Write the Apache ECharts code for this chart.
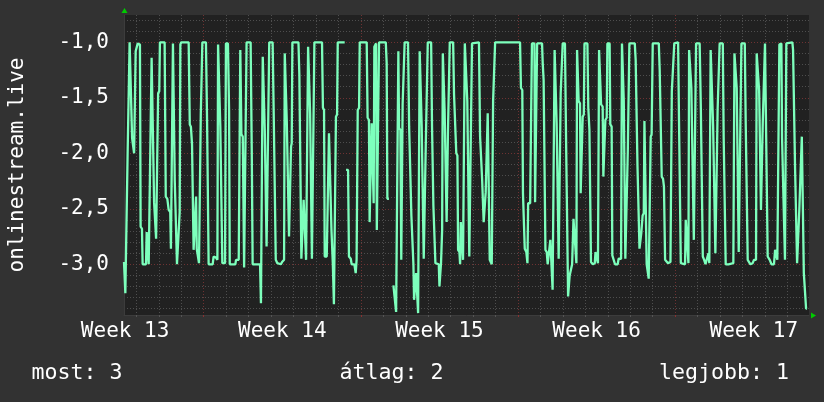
<!DOCTYPE html>
<html><head><meta charset="utf-8">
<script src="https://cdn.jsdelivr.net/npm/echarts@6/dist/echarts.min.js"></script>
<style>html,body{margin:0;padding:0;background:#323232;}#c{width:824px;height:402px;}</style>
</head><body><div id="c"></div>
<script>
// time in days from the left edge of the plot, value (negated rank)
const times = [
0.00,0.04,0.06,0.13,0.16,0.21,0.25,0.33,0.36,0.42,0.45,0.49,0.52,0.58,0.61,0.71,0.74,0.80,0.83,0.98,
1.01,1.07,1.10,1.17,1.23,1.31,1.34,1.40,1.43,1.49,1.52,1.57,1.60,1.81,1.86,1.93,1.99,2.06,2.09,2.15,
2.18,2.23,2.26,2.32,2.36,2.44,2.48,2.51,2.55,2.88,2.93,2.98,3.03,3.07,3.10,3.18,3.21,3.24,3.30,3.34,
3.39,3.42,3.46,3.49,3.65,3.70,3.74,3.77,3.95,3.99,4.10,4.16,4.19,4.26,4.29,4.35,4.38,4.50,4.54,4.63,
4.68,4.71,4.96,4.99,5.11,5.18,5.23,5.29,5.35,5.39,5.42,5.46,5.64,5.69,5.73,6.06,6.10,
6.15,6.18,6.24,6.27,6.33,6.35,6.43,6.47,6.62,6.67,6.73,6.76,6.83,6.89,6.98,7.04,7.13,7.16,7.22,7.25,
7.32,7.35,7.41,7.44,7.47,7.50,7.77,7.81,7.87,7.90,7.97,8.00,8.08,8.11,8.17,8.20,8.26,8.29,8.35,8.37,
8.45,8.48,8.82,8.86,8.91,8.94,9.03,9.09,9.13,9.21,9.24,9.30,9.35,9.41,9.44,9.49,9.52,9.83,9.86,9.89,
9.98,10.02,10.10,10.14,10.26,10.32,10.36,10.41,10.47,10.50,10.81,10.85,10.91,10.94,11.00,11.03,11.08,11.12,11.15,11.23,
11.26,11.31,11.36,11.66,11.70,11.73,11.80,11.90,12.00,12.07,12.12,12.18,
12.22,12.25,12.31,12.35,12.38,12.41,12.46,12.50,12.65,12.70,12.75,12.80,12.86,12.89,12.92,12.98,13.01,13.07,13.10,13.14,
13.17,13.23,13.26,13.32,13.35,13.41,13.44,13.50,13.53,13.68,13.72,13.78,13.84,13.87,14.02,14.05,14.09,14.12,14.17,14.20,
14.25,14.28,14.34,14.37,14.40,14.43,14.48,14.51,14.66,14.70,14.76,14.80,14.85,14.88,14.94,14.97,15.00,15.07,15.10,15.15,
15.18,15.26,15.29,15.35,15.38,15.44,15.50,15.81,15.86,15.92,15.95,15.99,16.02,16.08,16.11,16.17,16.20,16.26,16.29,16.38,
16.41,16.44,16.50,16.53,17.64,17.68,17.74,17.77,17.82,17.85,17.92,17.97,18.00,18.09,18.11,18.17,18.28,18.31,18.37,
18.40,18.62,18.65,18.69,18.74,18.77,18.83,18.87,18.95,18.99,19.05,19.09,19.15,19.18,19.24,19.27,19.33,19.36,19.42,19.45,
19.51,19.54,19.64,19.69,19.75,19.78,19.82,19.85,19.93,19.96,20.02,20.09,20.15,20.18,20.22,20.25,20.31,20.34,20.40,20.43,
20.48,20.51,20.64,20.68,20.73,20.77,20.80,20.88,20.97,21.00,21.08,21.11,21.16,21.22,21.25,21.32,21.35,21.41,21.44,21.50,
21.53,21.63,21.66,21.72,21.75,21.81,21.87,21.99,22.03,22.14,22.18,22.23,22.26,22.30,22.33,22.41,22.44,22.48,22.51,22.75,
22.79,22.84,22.87,22.93,22.96,23.01,23.04,23.10,23.15,23.18,23.25,23.28,23.34,23.37,23.43,23.46,23.50,23.55,23.82,23.86,
23.91,23.95,24.01,24.05,24.10,24.17,24.23,24.29,24.34,24.40,24.47,24.51,
24.68,24.72,24.77,24.80,24.99,25.02,25.09,25.14,25.17,25.24,25.27,25.35,25.38,25.43,25.48,25.64,25.69,25.75,25.78,25.84,
25.90,25.98,26.03,26.07,26.13,26.21,26.24,26.30,26.34,26.40,26.44,26.50,26.53,26.67,26.71,26.77,26.80,26.92,26.99,27.14,
27.19,27.26,27.29,27.35,27.38,27.45,27.50,27.65,27.69,27.75,27.78,27.84,27.90,28.00,28.06,28.15,28.18,28.24,28.29,28.33,
28.37,28.42,28.45,28.51,28.55,28.63,28.67,28.76,28.84,28.95,29.00,29.06,29.10,29.15,29.19,29.28,29.31,29.37,29.41,29.44,
29.50,29.77,29.80,29.84,29.89,29.95,29.98,30.04,30.08,30.14,30.19,30.25,30.28,30.33,30.38,30.42
];
const values = [
-2.98,-2.98,-3.26,-3.26,-2.02,-2.02,-1.00,-1.00,-1.86,-1.86,-2.00,-2.00,-1.08,-1.08,-1.01,-1.02,-2.66,-2.68,-3.00,-3.00,
-2.71,-2.71,-3.00,-3.00,-1.14,-1.14,-2.44,-2.45,-2.77,-2.77,-1.46,-1.44,-1.00,-1.00,-2.39,-2.41,-2.51,-2.53,-2.86,-2.86,
-1.01,-1.01,-2.24,-2.24,-3.00,-3.00,-2.53,-1.02,-1.00,-1.00,-1.74,-1.76,-1.92,-1.92,-2.87,-2.88,-2.39,-2.86,-2.86,-2.99,
-2.99,-1.65,-1.64,-1.00,-1.00,-1.70,-1.71,-3.00,-3.00,-2.93,-2.94,-2.96,-1.02,-1.02,-1.76,-1.77,-2.99,-2.99,-1.01,-1.01,
-1.61,-3.00,-3.00,-2.96,-2.96,-1.07,-1.83,-1.85,-3.03,-3.03,-1.73,-1.00,-1.00,-1.97,-3.00,-3.00,-3.35,
-3.35,-1.13,-1.13,-1.79,-1.79,-2.84,-2.84,-1.00,-1.00,-1.67,-1.68,-2.96,-2.99,-3.00,-3.00,-2.98,-2.96,-1.10,-1.10,-1.71,
-1.71,-2.75,-2.75,-1.94,-1.91,-1.00,-1.00,-1.29,-1.30,-2.95,-2.95,-2.42,-2.42,-2.96,-2.96,-1.04,-1.04,-1.64,-1.65,-2.95,
-2.95,-1.00,-1.00,-1.59,-1.61,-2.93,-2.93,-2.92,-1.82,-1.82,-2.69,-2.99,-3.36,-3.36,-1.67,-1.65,-1.00,-1.00,null,-2.15,
-2.15,-2.93,-2.95,-3.00,-3.00,-3.08,-2.96,-1.61,-1.59,-1.00,-1.00,-1.68,-1.70,-2.62,-2.62,-1.73,-1.73,-2.45,-1.04,-1.01,
-2.69,-2.68,-1.00,-1.00,-1.19,-2.41,-2.41,null,-3.19,-3.19,-3.43,-3.43,
-1.08,-1.77,-1.79,-2.96,-2.96,-1.56,-1.56,-1.00,-1.00,-1.76,-1.77,-2.56,-2.56,-3.00,-3.32,-3.32,-3.08,-3.08,-3.44,-3.44,
-1.08,-1.08,-1.76,-1.76,-2.95,-2.95,-1.94,-1.94,-1.00,-1.00,-1.76,-2.47,-2.48,-2.99,-3.00,-3.20,-3.20,-2.99,-2.69,-1.10,
-1.10,-1.61,-1.62,-2.62,-2.62,-1.79,-1.79,-1.00,-1.00,-1.47,-1.47,-2.00,-2.02,-2.87,-2.89,-3.00,-2.62,-2.62,-2.96,-2.96,
-1.01,-1.01,-1.53,-1.53,-2.93,-2.93,-1.01,-1.00,-1.85,-1.86,-2.23,-2.24,-2.62,-2.62,-2.35,-2.35,-1.64,-1.64,-2.96,-3.00,
-3.00,-1.53,-1.52,-1.00,-1.00,-1.41,-1.43,-2.36,-2.36,-2.86,-2.89,-2.99,-2.45,-2.45,-2.44,-1.01,-1.01,-2.44,-2.44,
-1.01,-1.01,-1.19,-1.34,-1.35,-2.87,-2.89,-3.00,-3.00,-2.78,-2.78,-3.23,-3.23,-1.07,-1.07,-1.73,-1.74,-2.95,-2.95,-1.46,
-1.46,-1.01,-1.01,-1.88,-1.88,-3.29,-3.29,-3.10,-3.10,-3.00,-2.59,-2.59,-2.99,-1.07,-1.07,-1.53,-1.55,-2.36,-2.36,-1.67,
-1.65,-1.01,-1.01,-1.59,-1.79,-1.80,-2.98,-3.00,-2.99,-2.89,-2.89,-2.99,-1.07,-1.07,-1.56,-1.58,-2.21,-2.21,-1.70,-1.68,
-1.01,-1.01,-1.74,-1.76,-2.92,-2.93,-3.00,-3.00,-2.95,-2.95,-1.01,-1.01,-1.53,-1.53,-2.95,-2.95,-1.97,-1.97,-1.01,-1.01,
-1.16,-1.17,-2.11,-2.12,-2.86,-2.86,-2.72,-2.56,-2.54,-1.71,-1.71,-3.00,-3.00,-3.13,-3.13,-1.85,-1.83,-1.01,-1.01,-1.25,
-1.26,-2.21,-2.23,-2.30,-2.96,-2.96,-2.99,-3.00,-2.98,-1.44,-1.43,-1.01,
-1.00,-1.70,-1.70,-2.99,-3.00,-2.60,-2.61,-2.99,-1.07,-1.07,-1.41,-1.41,-2.78,-2.78,-1.01,-1.01,-1.56,-1.57,-2.93,-2.96,
-3.00,-2.99,-2.90,-2.99,-1.07,-1.07,-1.76,-1.76,-2.90,-2.90,-1.61,-1.61,-1.01,-1.01,-1.86,-1.86,-3.00,-3.00,-2.99,-2.99,
-1.10,-1.10,-1.41,-1.41,-2.89,-2.89,-1.01,-1.01,-1.71,-1.71,-2.96,-2.96,-3.00,-2.99,-2.96,-2.96,-1.10,-1.10,-1.44,-1.44,
-2.51,-2.51,-1.73,-1.73,-1.01,-1.01,-2.93,-2.96,-3.00,-3.00,-2.87,-2.86,-2.96,-2.96,-1.02,-1.01,-1.86,-2.38,-2.39,-2.96,
-1.01,-1.00,-1.07,-1.08,-2.14,-2.15,-2.99,-2.99,-2.50,-2.50,-1.85,-1.85,-3.08,-3.08,-3.40,-3.40
];
const dayGrid = [0.55,1.55,2.55,3.55,4.55,5.55,6.55,7.55,8.55,9.55,10.55,11.55,12.55,13.55,14.55,15.55,16.55,17.55,18.55,19.55,20.55,21.55,22.55,23.55,24.55,25.55,26.55,27.55,28.55,29.55];
const weekGrid = [3.55,10.55,17.55,24.55];
const weekTicks = [0.05,7.05,14.05,21.05,28.05];
const weekLabels = ['Week 13','Week 14','Week 15','Week 16','Week 17'];
const yMinor = [-0.8,-0.9,-1.0,-1.1,-1.2,-1.3,-1.4,-1.5,-1.6,-1.7,-1.8,-1.9,-2.0,-2.1,-2.2,-2.3,-2.4,-2.5,-2.6,-2.7,-2.8,-2.9,-3.0,-3.1,-3.2,-3.3,-3.4];
const yMajor = [-1.0,-1.5,-2.0,-2.5,-3.0];
const yTitle = 'onlinestream.live';
const stats = ['most: 3','átlag: 2','legjobb: 1'];

const X_MIN = 0, X_MAX = 30.51, Y_MIN = -3.457, Y_MAX = -0.754;
const FONT = '"DejaVu Sans Mono", monospace';
const FS = 21;
const FS_STAT = 21.6;
const seriesData = times.map((t, i) => [t, values[i]]);

const chart = echarts.init(document.getElementById('c'), null, {renderer: 'canvas'});
const minorLine = {show: true, lineStyle: {color: '#4e4e4e', width: 1, type: [1, 2]}};
const majorLine = {show: true, lineStyle: {color: '#6e3232', width: 1, type: [1, 2]}};
chart.setOption({
  backgroundColor: '#323232',
  animation: false,
  grid: {left: 124, right: 15, top: 15, bottom: 87, show: true, backgroundColor: '#212121', borderWidth: 0,
         containLabel: false, outerBoundsMode: 'none'},
  xAxis: [
    {type: 'value', min: X_MIN, max: X_MAX, position: 'bottom',
     axisLine: {show: true, onZero: false, lineStyle: {color: '#3c3c3c'}},
     axisTick: {show: true, customValues: dayGrid, length: 2, inside: false, lineStyle: {color: '#555'}},
     axisLabel: {show: false}, splitLine: minorLine},
    {type: 'value', min: X_MIN, max: X_MAX, position: 'bottom',
     axisLine: {show: false}, axisTick: {show: true, customValues: weekGrid, length: 2, lineStyle: {color: '#8a3030'}},
     axisLabel: {show: false}, splitLine: majorLine},
    {type: 'value', min: X_MIN, max: X_MAX, position: 'bottom',
     axisLine: {show: false}, axisTick: {show: false, customValues: weekTicks},
     splitLine: {show: false},
     axisLabel: {show: true, customValues: weekTicks, margin: 6, color: '#ffffff', fontFamily: FONT, fontSize: FS,
       formatter: v => { const i = weekTicks.findIndex(w => Math.abs(w - v) < 1e-6); return i >= 0 ? weekLabels[i] : ''; }}}
  ],
  yAxis: [
    {type: 'value', min: Y_MIN, max: Y_MAX, position: 'left',
     axisLine: {show: true, onZero: false, lineStyle: {color: '#3c3c3c'}},
     axisTick: {show: false, customValues: yMinor}, axisLabel: {show: false}, splitLine: minorLine},
    {type: 'value', min: Y_MIN, max: Y_MAX, position: 'left',
     name: yTitle, nameLocation: 'middle', nameGap: 96,
     nameTextStyle: {color: '#ffffff', fontFamily: FONT, fontSize: FS},
     axisLine: {show: false}, axisTick: {show: false, customValues: yMajor},
     axisLabel: {show: true, customValues: yMajor, margin: 15, color: '#ffffff', fontFamily: FONT, fontSize: FS,
       formatter: v => v.toFixed(1).replace('.', ',')},
     splitLine: majorLine}
  ],
  series: [{
    type: 'line', xAxisIndex: 0, yAxisIndex: 0, data: seriesData, showSymbol: false, symbol: 'none',
    connectNulls: false, clip: true,
    lineStyle: {color: '#7dffbc', width: 2.3}, z: 5
  }],
  graphic: [
    {type: 'polygon', shape: {points: [[121.5, 13], [127.5, 13], [124.5, 8]]}, style: {fill: '#00cc00'}, z: 10},
    {type: 'polygon', shape: {points: [[811, 312.5], [811, 318.5], [816, 315.5]]}, style: {fill: '#00cc00'}, z: 10},
    {type: 'text', x: 31.5, y: 373.4, style: {text: stats[0], fill: '#ffffff', font: FS_STAT + 'px ' + FONT, verticalAlign: 'middle', align: 'left'}},
    {type: 'text', x: 339.5, y: 373.4, style: {text: stats[1], fill: '#ffffff', font: FS_STAT + 'px ' + FONT, verticalAlign: 'middle', align: 'left'}},
    {type: 'text', x: 659, y: 373.4, style: {text: stats[2], fill: '#ffffff', font: FS_STAT + 'px ' + FONT, verticalAlign: 'middle', align: 'left'}}
  ]
});
</script></body></html>
